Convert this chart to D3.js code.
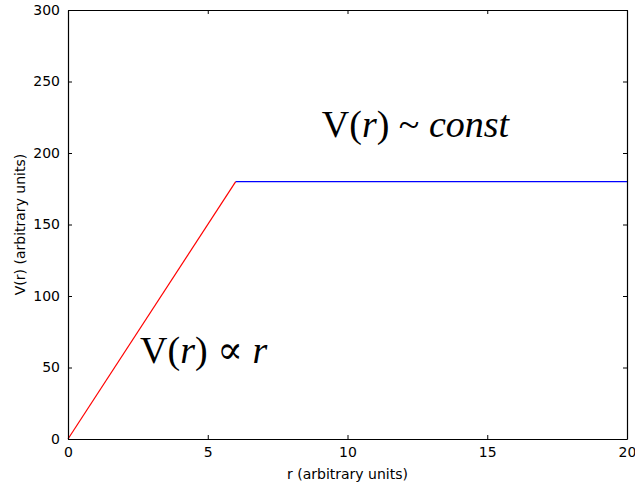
<!DOCTYPE html>
<html>
<head>
<meta charset="utf-8">
<script src="https://cdn.jsdelivr.net/npm/d3@7"></script>
<style>
  html, body { margin: 0; padding: 0; background: #fff; }
  svg { display: block; }
  .tick text { font-family: "DejaVu Sans", sans-serif; font-size: 14px; fill: #000; }
  .lbl { font-family: "DejaVu Sans", sans-serif; font-size: 14px; fill: #000; }
  .note { font-family: "Liberation Serif", "DejaVu Serif", serif; font-size: 38px; fill: #000; }
</style>
</head>
<body>
<svg id="chart" width="635" height="488"></svg>
<script>
// Potential profile: linear rise, then flat
const risingR = [0, 6];
const risingV = [0, 180];
const flatR = [6, 20];
const flatV = [180, 180];

const xTicks = [0, 5, 10, 15, 20];
const yTicks = [0, 50, 100, 150, 200, 250, 300];

const xDomain = [0, 20];
const yDomain = [0, 300];

const margin = { left: 68, right: 8, top: 10, bottom: 49 };
const W = 635, H = 488;

const svg = d3.select("#chart");
const x = d3.scaleLinear().domain(xDomain).range([margin.left, W - margin.right]);
const y = d3.scaleLinear().domain(yDomain).range([H - margin.bottom, margin.top]);

const line = d3.line().x(d => x(d[0])).y(d => y(d[1]));

svg.append("path")
  .datum(d3.zip(risingR, risingV))
  .attr("d", line)
  .attr("fill", "none").attr("stroke", "#ff0000").attr("stroke-width", 1.2);

svg.append("path")
  .datum(d3.zip(flatR, flatV))
  .attr("d", line)
  .attr("fill", "none").attr("stroke", "#0000ff").attr("stroke-width", 1.4);

// Axes with inward ticks on all four sides
const tickLen = 4;
const axBottom = svg.append("g").attr("transform", `translate(0,${y(0)})`)
  .call(d3.axisBottom(x).tickValues(xTicks).tickSizeInner(-tickLen).tickSizeOuter(0).tickPadding(8));
const axLeft = svg.append("g").attr("transform", `translate(${x(0)},0)`)
  .call(d3.axisLeft(y).tickValues(yTicks).tickSizeInner(-tickLen).tickSizeOuter(0).tickPadding(8));
const axTop = svg.append("g").attr("transform", `translate(0,${y(300)})`)
  .call(d3.axisTop(x).tickValues(xTicks).tickSizeInner(-tickLen).tickSizeOuter(0).tickFormat(""));
const axRight = svg.append("g").attr("transform", `translate(${x(20)},0)`)
  .call(d3.axisRight(y).tickValues(yTicks).tickSizeInner(-tickLen).tickSizeOuter(0).tickFormat(""));

[axBottom, axLeft, axTop, axRight].forEach(g => {
  g.select(".domain").attr("stroke", "#000").attr("stroke-width", 1.2);
  g.selectAll(".tick line").attr("stroke", "#000");
});

// Axis labels
svg.append("text").attr("class", "lbl")
  .attr("x", (x(0) + x(20)) / 2).attr("y", 479)
  .attr("text-anchor", "middle").text("r (arbitrary units)");
svg.append("text").attr("class", "lbl")
  .attr("transform", `translate(25,${(y(0) + y(300)) / 2}) rotate(-90)`)
  .attr("text-anchor", "middle").text("V(r) (arbitrary units)");

// Annotations
const n1 = svg.append("text").attr("class", "note").attr("x", x(2.58)).attr("y", y(53));
n1.append("tspan").text("V(");
n1.append("tspan").attr("font-style", "italic").text("r");
n1.append("tspan").text(") \u221D ");
n1.append("tspan").attr("font-style", "italic").text("r");

const n2 = svg.append("text").attr("class", "note").attr("x", x(9.08)).attr("y", y(211));
n2.append("tspan").text("V(");
n2.append("tspan").attr("font-style", "italic").text("r");
n2.append("tspan").text(") ~ ");
n2.append("tspan").attr("font-style", "italic").text("const");
</script>
</body>
</html>
